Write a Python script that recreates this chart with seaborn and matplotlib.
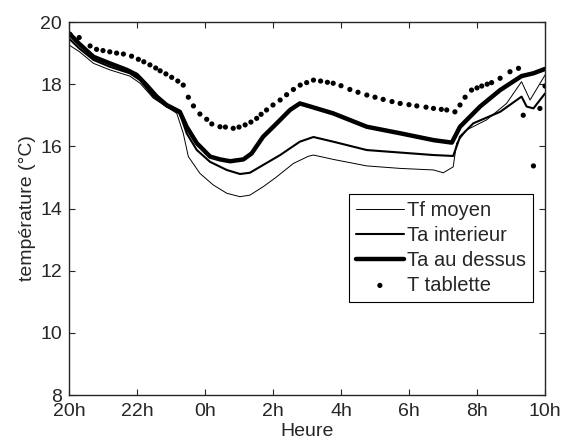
import numpy as np
import pandas as pd
import seaborn as sns
import matplotlib
matplotlib.use('Agg')
import matplotlib.pyplot as plt

# heures depuis 20h
t_tf = [0, 0.3, 0.72, 1.2, 1.79, 2.09, 2.48, 2.87, 3.17, 3.36, 3.51, 3.85, 4.24, 4.64, 5.03, 5.32,
        5.71, 6.11, 6.6, 7.04, 7.19, 7.77, 8.76, 9.74, 10.72, 11.01, 11.3, 11.4, 11.7, 12.28, 12.87,
        13.31, 13.56, 14.0]
tf_moyen = [19.26, 19.05, 18.67, 18.46, 18.26, 18.03, 17.55, 17.28, 17.06, 16.42, 15.67, 15.13, 14.76,
            14.49, 14.38, 14.43, 14.7, 15.02, 15.45, 15.68, 15.72, 15.58, 15.37, 15.29, 15.24, 15.15,
            15.34, 16.1, 16.53, 16.85, 17.38, 18.08, 17.49, 18.29]

t_int = [0, 0.3, 0.72, 1.2, 1.79, 2.09, 2.48, 2.87, 3.26, 3.46, 3.76, 4.15, 4.64, 5.03, 5.32, 5.71,
         6.21, 6.79, 7.19, 7.77, 8.76, 9.74, 10.72, 11.3, 11.5, 11.89, 12.68, 13.31, 13.46, 13.66, 14.0]
ta_interieur = [19.47, 19.15, 18.78, 18.56, 18.35, 18.13, 17.6, 17.28, 17.06, 16.42, 15.88, 15.5, 15.24,
                15.11, 15.15, 15.4, 15.72, 16.15, 16.3, 16.15, 15.88, 15.8, 15.72, 15.69, 16.31, 16.74,
                17.11, 17.6, 17.28, 17.22, 17.7]

t_dessus = [0, 0.3, 0.72, 1.2, 1.7, 1.99, 2.28, 2.58, 2.87, 3.26, 3.46, 3.76, 4.15, 4.44, 4.74, 5.13,
            5.37, 5.71, 6.11, 6.5, 6.79, 7.04, 7.77, 8.76, 9.74, 10.72, 11.26, 11.5, 12.09, 12.68,
            13.31, 13.66, 14.0]
ta_dessus = [19.64, 19.3, 18.88, 18.67, 18.46, 18.3, 17.97, 17.6, 17.33, 17.11, 16.63, 16.1, 15.67,
             15.58, 15.52, 15.58, 15.77, 16.31, 16.74, 17.17, 17.38, 17.3, 17.06, 16.63, 16.42, 16.2,
             16.12, 16.63, 17.28, 17.81, 18.26, 18.35, 18.49]

t_tab = [0.03, 0.3, 0.62, 0.81, 1.0, 1.2, 1.4, 1.6, 1.84, 2.04, 2.2, 2.38, 2.55, 2.68, 2.85, 3.02, 3.2,
         3.36, 3.51, 3.66, 3.85, 4.05, 4.2, 4.44, 4.6, 4.83, 5.0, 5.18, 5.35, 5.52, 5.65, 5.81, 6.0,
         6.21, 6.4, 6.6, 6.8, 6.99, 7.19, 7.4, 7.6, 7.77, 8.0, 8.26, 8.5, 8.76, 9.0, 9.24, 9.5, 9.74,
         10.0, 10.23, 10.5, 10.72, 10.95, 11.11, 11.35, 11.5, 11.65, 11.84, 12.0, 12.14, 12.3, 12.43,
         12.68, 12.97, 13.22, 13.36, 13.66, 13.85, 14.0]
t_tablette = [19.6, 19.5, 19.23, 19.12, 19.08, 19.04, 19.0, 18.97, 18.9, 18.8, 18.72, 18.62, 18.52,
              18.43, 18.33, 18.22, 18.1, 17.97, 17.58, 17.3, 17.04, 16.87, 16.72, 16.63, 16.62, 16.58,
              16.62, 16.69, 16.78, 16.9, 17.03, 17.17, 17.33, 17.49, 17.66, 17.83, 17.97, 18.05, 18.13,
              18.1, 18.06, 18.03, 17.95, 17.83, 17.74, 17.65, 17.58, 17.51, 17.44, 17.38, 17.34, 17.3,
              17.26, 17.22, 17.19, 17.17, 17.11, 17.33, 17.58, 17.81, 17.88, 17.94, 18.0, 18.05, 18.19,
              18.4, 18.51, 17.0, 15.37, 17.22, 17.94]

xticks = [0, 2, 4, 6, 8, 10, 12, 14]
xlabels = ['20h', '22h', '0h', '2h', '4h', '6h', '8h', '10h']

sns.set_style('ticks')
plt.rcParams['font.family'] = ['Liberation Sans', 'DejaVu Sans']
plt.rcParams['xtick.direction'] = 'in'
plt.rcParams['ytick.direction'] = 'in'

fig = plt.figure(figsize=(5.63, 4.42), dpi=100)
ax = fig.add_axes([69/563, 1-395/442, 476/563, 373/442])

sns.lineplot(x=t_tf, y=tf_moyen, ax=ax, color='black', lw=0.7, label='Tf moyen')
sns.lineplot(x=t_int, y=ta_interieur, ax=ax, color='black', lw=1.5, label='Ta interieur')
sns.lineplot(x=t_dessus, y=ta_dessus, ax=ax, color='black', lw=3.2, label='Ta au dessus')
sns.scatterplot(x=t_tab, y=t_tablette, ax=ax, color='black', s=14, edgecolor='none', label='T tablette')

ax.set_xlim(0, 14)
ax.set_ylim(8, 20)
ax.set_xticks(xticks)
ax.set_xticklabels(xlabels)
ax.set_yticks(range(8, 21, 2))
ax.tick_params(labelsize=14, top=True, right=True, length=4, width=0.8)
ax.tick_params(axis='x', pad=6)
ax.tick_params(axis='y', pad=5)
for s in ax.spines.values():
    s.set_linewidth(1.0)
ax.set_xlabel('Heure', fontsize=14, labelpad=2)
ax.set_ylabel('température (°C)', fontsize=14, labelpad=3)

leg = ax.legend(loc='lower right', bbox_to_anchor=(0.975, 0.25), fontsize=14.5, frameon=True,
                fancybox=False, edgecolor='black', framealpha=1, handlelength=2.4,
                borderpad=0.35, labelspacing=0.3, handletextpad=0.15, borderaxespad=0)
leg.get_frame().set_linewidth(0.8)

plt.savefig('out.png', dpi=100)
